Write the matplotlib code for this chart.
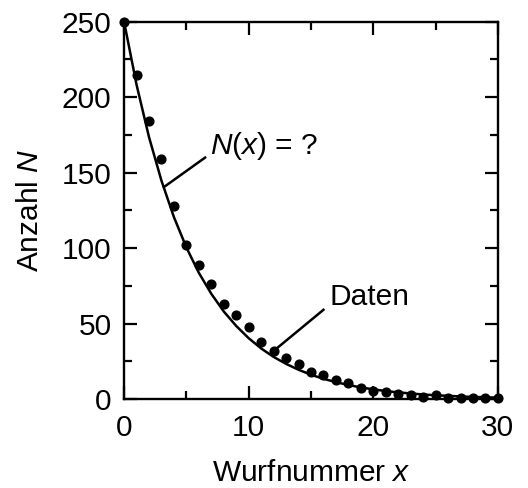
import matplotlib
matplotlib.use("Agg")
import numpy as np
from matplotlib import pyplot as plt
from matplotlib.ticker import MultipleLocator

# Measured counts per throw (dots)
wurf = list(range(31))
anzahl = [250, 215, 184, 159, 128, 102, 89, 76, 63, 56,
          48, 38, 32, 27, 23, 18, 16, 13, 11, 7.5,
          5.5, 5, 3.3, 2.5, 1.5, 2.5, 1, 1, 1, 1, 1]

# Model curve at each throw
kurve = [250.0, 208.3, 173.6, 144.7, 120.6, 100.5, 83.7, 69.8, 58.1, 48.5,
         40.4, 33.6, 28.0, 23.4, 19.5, 16.2, 13.5, 11.3, 9.4, 7.8,
         6.5, 5.4, 4.5, 3.8, 3.1, 2.6, 2.2, 1.8, 1.5, 1.3, 1.0]

x_ticks = [0, 10, 20, 30]
y_ticks = [0, 50, 100, 150, 200, 250]

FS = 21.5
plt.rcParams["font.family"] = "Liberation Sans"
plt.rcParams["mathtext.fontset"] = "custom"
plt.rcParams["mathtext.rm"] = "Liberation Sans"
plt.rcParams["mathtext.it"] = "Liberation Sans:italic"
plt.rcParams["font.size"] = FS

fig = plt.figure(figsize=(5.28, 4.88), dpi=100)
ax = fig.add_axes([0.235, 0.182, 0.708, 0.7735])

ax.plot(wurf, kurve, color="black", lw=1.8)
ax.plot(wurf, anzahl, "o", color="black", ms=6.3, clip_on=False, zorder=5)

ax.set_xlim(0, 30)
ax.set_ylim(0, 250)
ax.set_xticks(x_ticks)
ax.set_yticks(y_ticks)
ax.xaxis.set_minor_locator(MultipleLocator(5))
ax.yaxis.set_minor_locator(MultipleLocator(25))
ax.tick_params(which="both", direction="in", top=True, right=True, width=1.6)
ax.tick_params(which="major", length=9.5, labelsize=FS)
ax.tick_params(axis="x", which="major", pad=11)
ax.tick_params(axis="y", which="major", pad=9)
ax.tick_params(which="minor", length=5.5)
for spine in ax.spines.values():
    spine.set_linewidth(1.7)

ax.set_xlabel("Wurfnummer $x$", fontsize=FS, labelpad=12)
ax.set_ylabel("Anzahl $N$", fontsize=FS, labelpad=13)

# Pointer labels
ax.plot([3.2, 6.5], [140.5, 160], color="black", lw=1.8)
ax.text(6.9, 168, "$N$($x$) = ?", fontsize=FS, va="center", ha="left")
ax.plot([12.2, 16.0], [33.3, 59.2], color="black", lw=1.8)
ax.text(16.5, 68, "Daten", fontsize=FS, va="center", ha="left")

fig.savefig("out.png", dpi=100)
